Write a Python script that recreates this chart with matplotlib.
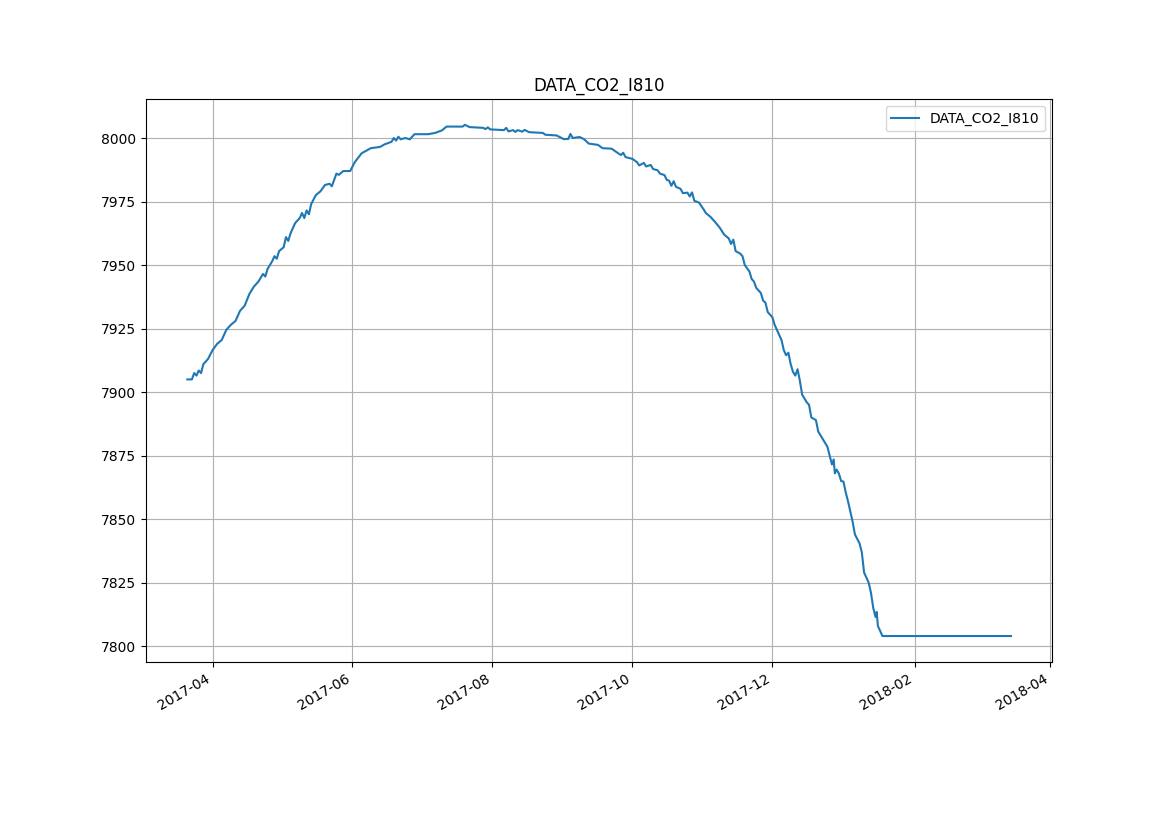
import pandas as pd
import matplotlib
matplotlib.use("Agg")
import matplotlib.pyplot as plt
import matplotlib.dates as mdates

# valores
datas = [
    "2017-03-21", "2017-03-23", "2017-03-24", "2017-03-25", "2017-03-26", "2017-03-27",
    "2017-03-28", "2017-03-30", "2017-04-01", "2017-04-03", "2017-04-05", "2017-04-07",
    "2017-04-09", "2017-04-11", "2017-04-13", "2017-04-15", "2017-04-17", "2017-04-19",
    "2017-04-21", "2017-04-23", "2017-04-24", "2017-04-25", "2017-04-27", "2017-04-28",
    "2017-04-29", "2017-04-30", "2017-05-02", "2017-05-03", "2017-05-04", "2017-05-05",
    "2017-05-07", "2017-05-09", "2017-05-10", "2017-05-11", "2017-05-12", "2017-05-13",
    "2017-05-14", "2017-05-16", "2017-05-18", "2017-05-20", "2017-05-22", "2017-05-23",
    "2017-05-25", "2017-05-26", "2017-05-28", "2017-05-31", "2017-06-02", "2017-06-05",
    "2017-06-07", "2017-06-09", "2017-06-13", "2017-06-15", "2017-06-18", "2017-06-19",
    "2017-06-20", "2017-06-21", "2017-06-22", "2017-06-24", "2017-06-26", "2017-06-28",
    "2017-07-04", "2017-07-07", "2017-07-10", "2017-07-12", "2017-07-19", "2017-07-20",
    "2017-07-22", "2017-07-28", "2017-07-29", "2017-07-30", "2017-07-31", "2017-08-06",
    "2017-08-07", "2017-08-08", "2017-08-10", "2017-08-11", "2017-08-12", "2017-08-14",
    "2017-08-15", "2017-08-17", "2017-08-23", "2017-08-24", "2017-08-29", "2017-09-01",
    "2017-09-03", "2017-09-04", "2017-09-05", "2017-09-08", "2017-09-10", "2017-09-12",
    "2017-09-16", "2017-09-18", "2017-09-22", "2017-09-24", "2017-09-26", "2017-09-27",
    "2017-09-28", "2017-10-01", "2017-10-03", "2017-10-04", "2017-10-06", "2017-10-07",
    "2017-10-09", "2017-10-10", "2017-10-12", "2017-10-13", "2017-10-15", "2017-10-16",
    "2017-10-17", "2017-10-18", "2017-10-19", "2017-10-20", "2017-10-22", "2017-10-23",
    "2017-10-25", "2017-10-26", "2017-10-27", "2017-10-28", "2017-10-30", "2017-11-01",
    "2017-11-02", "2017-11-04", "2017-11-06", "2017-11-08", "2017-11-10", "2017-11-12",
    "2017-11-13", "2017-11-14", "2017-11-15", "2017-11-17", "2017-11-18", "2017-11-19",
    "2017-11-21", "2017-11-22", "2017-11-23", "2017-11-24", "2017-11-26", "2017-11-27",
    "2017-11-28", "2017-11-29", "2017-12-01", "2017-12-02", "2017-12-03", "2017-12-05",
    "2017-12-06", "2017-12-07", "2017-12-08", "2017-12-09", "2017-12-10", "2017-12-11",
    "2017-12-12", "2017-12-13", "2017-12-14", "2017-12-16", "2017-12-17", "2017-12-18",
    "2017-12-20", "2017-12-21", "2017-12-23", "2017-12-25", "2017-12-27", "2017-12-27 18:00",
    "2017-12-28 06:00", "2017-12-29", "2017-12-30", "2017-12-31", "2018-01-01", "2018-01-02",
    "2018-01-03", "2018-01-05", "2018-01-06", "2018-01-08", "2018-01-09", "2018-01-10",
    "2018-01-12", "2018-01-13", "2018-01-14", "2018-01-15", "2018-01-15 12:00", "2018-01-16",
    "2018-01-18", "2018-03-15",
]

co2 = [
    7905.0, 7905.0, 7907.5, 7906.5, 7908.5, 7907.5,
    7911.0, 7913.0, 7916.5, 7919.0, 7920.5, 7924.5,
    7926.5, 7928.0, 7932.0, 7934.0, 7938.5, 7941.5,
    7943.5, 7946.5, 7945.5, 7948.5, 7951.5, 7953.5,
    7952.5, 7955.5, 7957.0, 7961.0, 7959.5, 7962.5,
    7966.5, 7968.5, 7970.5, 7968.5, 7971.5, 7970.0,
    7974.0, 7977.5, 7979.0, 7981.5, 7982.0, 7981.0,
    7986.0, 7985.5, 7987.0, 7987.0, 7990.5, 7994.0,
    7995.0, 7996.0, 7996.5, 7997.5, 7998.5, 8000.0,
    7999.0, 8000.5, 7999.5, 8000.0, 7999.5, 8001.5,
    8001.5, 8002.0, 8003.0, 8004.5, 8004.5, 8005.2,
    8004.3, 8004.0, 8003.5, 8004.2, 8003.4, 8003.1,
    8004.0, 8002.6, 8003.1, 8002.4, 8003.1, 8002.5,
    8003.2, 8002.3, 8002.0, 8001.3, 8001.0, 7999.6,
    7999.6, 8001.6, 8000.0, 8000.4, 7999.5, 7997.8,
    7997.3, 7996.0, 7995.8, 7994.5, 7993.3, 7994.2,
    7992.5, 7991.8, 7990.5, 7989.2, 7990.2, 7988.8,
    7989.4, 7987.8, 7987.3, 7986.0, 7985.4, 7983.5,
    7983.2, 7981.2, 7983.0, 7980.8, 7980.0, 7978.3,
    7978.5, 7977.0, 7978.6, 7975.3, 7974.6, 7972.0,
    7970.5, 7969.0, 7967.0, 7964.8, 7962.0, 7960.5,
    7958.3, 7960.0, 7955.5, 7954.5, 7953.5, 7950.0,
    7947.5, 7944.5, 7943.5, 7941.0, 7939.0, 7936.0,
    7935.2, 7931.5, 7929.5, 7926.5, 7924.5, 7920.5,
    7916.5, 7914.5, 7915.5, 7911.0, 7908.0, 7906.5,
    7909.0, 7904.5, 7899.0, 7896.0, 7895.0, 7890.0,
    7889.0, 7884.5, 7881.5, 7878.5, 7871.5, 7873.5,
    7868.0, 7869.5, 7868.0, 7865.0, 7864.8, 7860.5,
    7857.0, 7849.0, 7844.0, 7840.5, 7837.0, 7829.0,
    7825.0, 7821.0, 7815.0, 7811.5, 7813.5, 7808.0,
    7804.0, 7804.0,
]

nome = "DATA_CO2_I810"

x = pd.to_datetime(datas, format="mixed")

fig, ax = plt.subplots(figsize=(11.69, 8.27), dpi=100)
ax.plot(x, co2, color="#1f77b4", linewidth=1.5, label=nome)

ax.set_title(nome)
ax.grid(True)
ax.legend(loc="upper right")

ax.xaxis.set_major_locator(mdates.MonthLocator(bymonth=[2, 4, 6, 8, 10, 12]))
ax.xaxis.set_major_formatter(mdates.DateFormatter("%Y-%m"))
fig.autofmt_xdate()

fig.savefig("out.png", dpi=100)
